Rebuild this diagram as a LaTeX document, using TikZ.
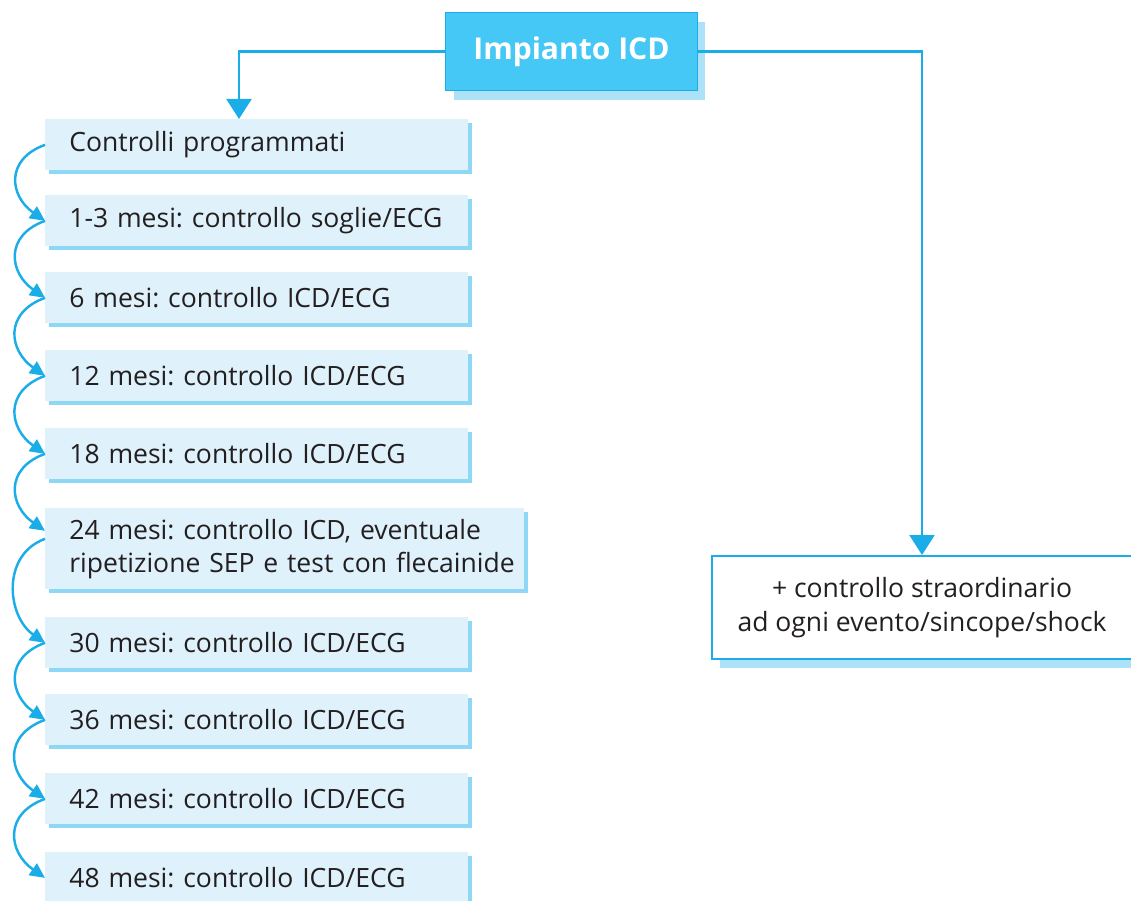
\documentclass[tikz,border=0pt]{standalone}
\usepackage{fontspec}
\setmainfont{Open Sans}
\usetikzlibrary{arrows.meta,shadows,calc}
\definecolor{cyanline}{HTML}{1AADE8}
\definecolor{topfill}{HTML}{45C8F5}
\definecolor{topshadow}{HTML}{ADE1F8}
\definecolor{boxfill}{HTML}{DFF1FB}
\definecolor{boxshadow}{HTML}{8ED8F6}
\definecolor{txt}{HTML}{231F20}
\begin{document}
\frenchspacing
\begin{tikzpicture}[x=0.02cm,y=-0.02cm,
  stepbox/.style={anchor=north west, fill=boxfill, text=txt, inner xsep=0.48cm,
    text width=7.5cm, minimum height=1.02cm, align=left,
    font=\fontsize{15.1pt}{19pt}\selectfont,
    drop shadow={shadow xshift=0.08cm, shadow yshift=-0.08cm, fill=boxshadow, opacity=1}},
  topbox/.style={anchor=north west, fill=topfill, draw=cyanline, line width=0.6pt,
    text=white, minimum width=5.04cm, minimum height=1.56cm,
    font=\fontsize{17.1pt}{21pt}\selectfont\bfseries,
    drop shadow={shadow xshift=0.16cm, shadow yshift=-0.18cm, fill=topshadow, opacity=1}},
  sidebox/.style={anchor=north west, fill=white, draw=cyanline, line width=1.2pt,
    text=txt, minimum width=8.4cm, minimum height=2.06cm, align=center,
    font=\fontsize{15.1pt}{19.3pt}\selectfont,
    drop shadow={shadow xshift=0.16cm, shadow yshift=-0.18cm, fill=topshadow, opacity=1}},
  bigarrow/.style={draw=cyanline, line width=1.3pt, -{Triangle[length=0.4cm, width=0.5cm]}},
  curvearrow/.style={draw=cyanline, line width=1.4pt, -{Triangle[length=0.3cm, width=0.28cm]},
    out=200, in=145, looseness=1.45}
]
\useasboundingbox (0,0) rectangle (1131,901);

\node[topbox] (top) at (445,12) {Impianto ICD};

\node[stepbox] (b1) at (45,119) {\mbox{Controlli programmati}};
\node[stepbox] (b2) at (45,195) {\mbox{1-3 mesi: controllo soglie/ECG}};
\node[stepbox] (b3) at (45,272) {\mbox{6 mesi: controllo ICD/ECG}};
\node[stepbox] (b4) at (45,350) {\mbox{12 mesi: controllo ICD/ECG}};
\node[stepbox] (b5) at (45,428) {\mbox{18 mesi: controllo ICD/ECG}};
\node[stepbox, text width=8.62cm, minimum height=1.62cm] (b6) at (45,508)
  {\mbox{24 mesi: controllo ICD, eventuale}\\\mbox{ripetizione SEP e test con flecainide}};
\node[stepbox] (b7) at (45,617) {\mbox{30 mesi: controllo ICD/ECG}};
\node[stepbox] (b8) at (45,694) {\mbox{36 mesi: controllo ICD/ECG}};
\node[stepbox] (b9) at (45,773) {\mbox{42 mesi: controllo ICD/ECG}};
\node[stepbox] (b10) at (45,852) {\mbox{48 mesi: controllo ICD/ECG}};

\node[sidebox] (side) at (711,555) {+ controllo straordinario\\ad ogni evento/sincope/shock};

\draw[bigarrow] (top.west) -| ($(b1.north west)+(194,0)$);
\draw[bigarrow] (top.east) -| (side.north);

\draw[curvearrow] (b1.west) to (b2.west);
\draw[curvearrow] (b2.west) to (b3.west);
\draw[curvearrow] (b3.west) to (b4.west);
\draw[curvearrow] (b4.west) to (b5.west);
\draw[curvearrow] (b5.west) to ($(b6.west)+(0,-18)$);
\draw[curvearrow, looseness=1.15] ($(b6.west)+(0,-10)$) to (b7.west);
\draw[curvearrow] (b7.west) to (b8.west);
\draw[curvearrow] (b8.west) to (b9.west);
\draw[curvearrow] (b9.west) to (b10.west);
\end{tikzpicture}
\end{document}
